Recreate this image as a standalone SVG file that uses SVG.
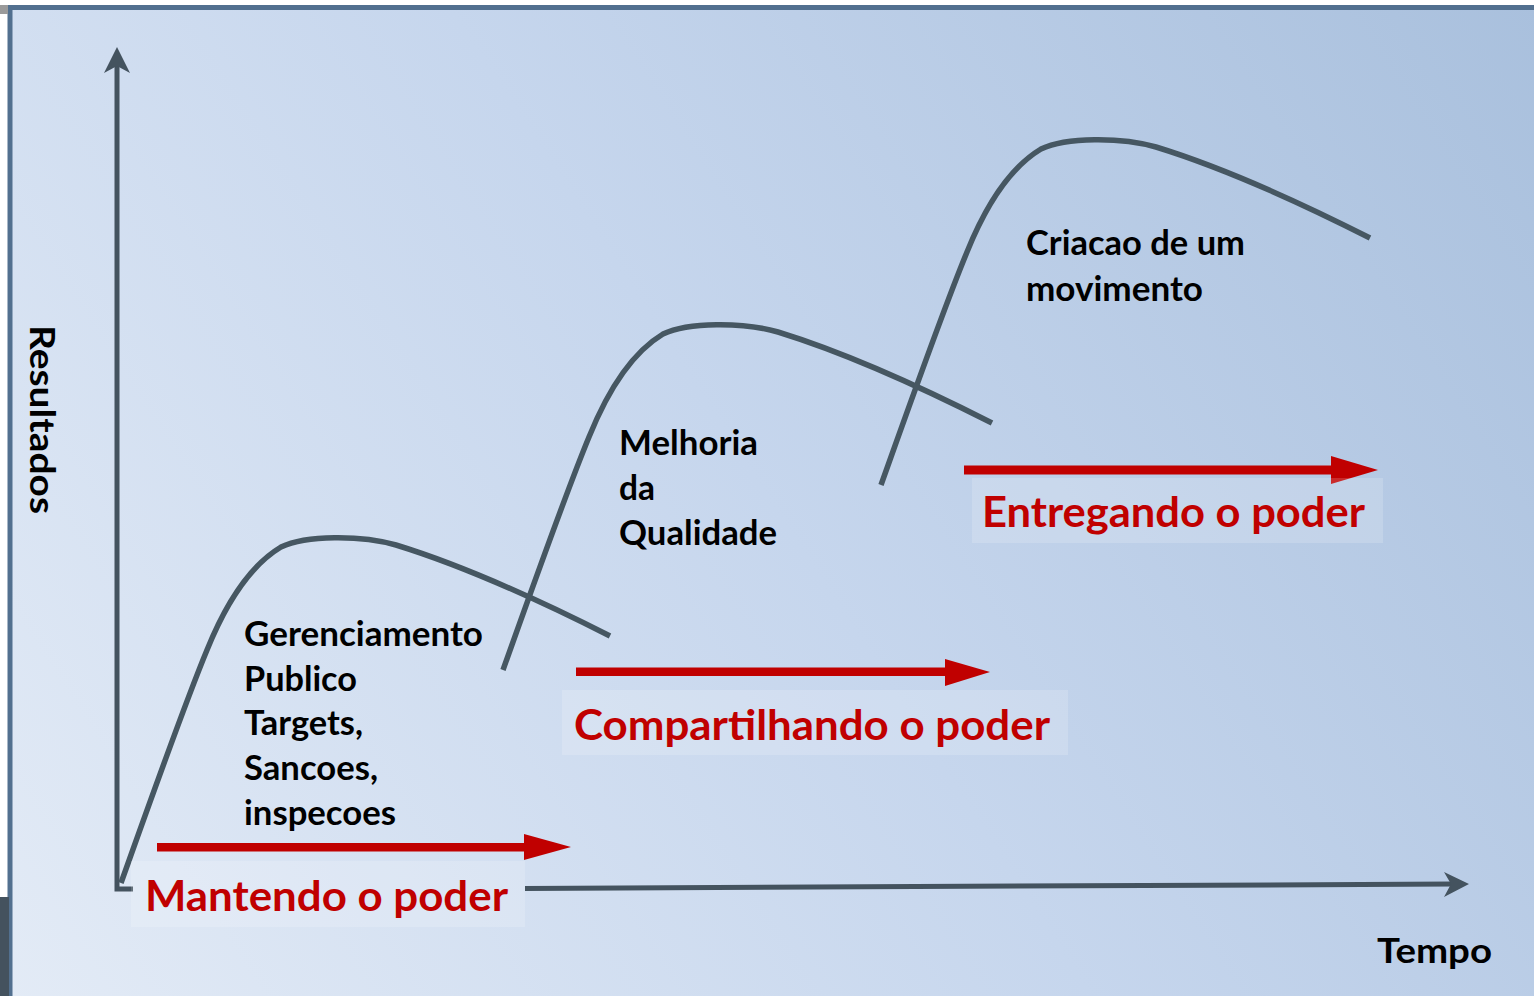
<svg xmlns="http://www.w3.org/2000/svg" width="1534" height="996" viewBox="0 0 1534 996">
  <defs>
    <linearGradient id="bg" x1="0" y1="996" x2="1534" y2="0" gradientUnits="userSpaceOnUse">
      <stop offset="0" stop-color="#e3ebf6"/>
      <stop offset="0.5" stop-color="#c6d6ed"/>
      <stop offset="1" stop-color="#a9c0dd"/>
    </linearGradient>
    <style>
      .axis { fill: none; stroke: #44535f; stroke-width: 5; }
      .axhead { fill: #44535f; }
      .curve { fill: none; stroke: #465762; stroke-width: 5.5; stroke-linecap: butt; }
      .red { fill: #c00000; }
      .lbox { fill: #ffffff; fill-opacity: 0.17; }
      .blk { font-family: Lato, "Liberation Sans", sans-serif; font-weight: 700; font-size: 34px; fill: #000000; }
      .rtxt { font-family: Lato, "Liberation Sans", sans-serif; font-weight: 700; font-size: 42px; fill: #c00000; }
    </style>
  </defs>

  <rect x="0" y="0" width="1534" height="996" fill="#ffffff"/>
  <rect x="10" y="7.5" width="1530" height="1000" fill="url(#bg)" stroke="#52708f" stroke-width="5"/>
  <rect x="0" y="5" width="8" height="9" fill="#9a9a9a"/>
  <rect x="0" y="897" width="9" height="99" fill="#44525e"/>

  <g id="connectors">
    <!-- axes -->
    <path class="axis" d="M117,62 L117,889 L133,889"/>
    <polygon class="axhead" points="117,47 130,73 117,66 104,73"/>
    <path class="axis" d="M525,888.5 L1453,884"/>
    <polygon class="axhead" points="1469,884 1444,872 1451,884 1444,897"/>

    <!-- curves -->
    <path class="curve" transform="translate(121,883)" d="M0,0 C25,-70 62,-175 86,-233 C105,-280 130,-318 160,-336 C185,-348 240,-348 275,-338 C340,-318 420,-282 489,-247"/>
    <path class="curve" transform="translate(503,670)" d="M0,0 C25,-70 62,-175 86,-233 C105,-280 130,-318 160,-336 C185,-348 240,-348 275,-338 C340,-318 420,-282 489,-247"/>
    <path class="curve" transform="translate(881,485)" d="M0,0 C25,-70 62,-175 86,-233 C105,-280 130,-318 160,-336 C185,-348 240,-348 275,-338 C340,-318 420,-282 489,-247"/>

    <!-- red arrows -->
    <rect class="red" x="157" y="843" width="369" height="8.5"/>
    <polygon class="red" points="524,834 571,847 524,860"/>
    <rect class="red" x="576" y="667.5" width="371" height="8.5"/>
    <polygon class="red" points="945,659 990,672 945,686"/>
    <rect class="red" x="964" y="465.5" width="369" height="9"/>
    <polygon class="red" points="1331,456 1378,470 1331,484"/>
  </g>

  <g id="label-mantendo">
    <rect class="lbox" x="131" y="861" width="394" height="66"/>
    <text class="rtxt" x="145" y="911" textLength="363" lengthAdjust="spacingAndGlyphs">Mantendo o poder</text>
  </g>
  <g id="label-compartilhando">
    <rect class="lbox" x="562" y="690" width="506" height="65"/>
    <text class="rtxt" x="574" y="740" textLength="476" lengthAdjust="spacingAndGlyphs">Compartilhando o poder</text>
  </g>
  <g id="label-entregando">
    <rect class="lbox" x="972" y="478" width="411" height="65"/>
    <text class="rtxt" x="982" y="527" textLength="383" lengthAdjust="spacingAndGlyphs">Entregando o poder</text>
  </g>

  <g id="stage-gerenciamento">
    <text class="blk" x="244" y="646" textLength="239" lengthAdjust="spacingAndGlyphs">Gerenciamento</text>
    <text class="blk" x="244" y="691" textLength="113" lengthAdjust="spacingAndGlyphs">Publico</text>
    <text class="blk" x="244" y="735" textLength="119" lengthAdjust="spacingAndGlyphs">Targets,</text>
    <text class="blk" x="244" y="780" textLength="134" lengthAdjust="spacingAndGlyphs">Sancoes,</text>
    <text class="blk" x="244" y="825" textLength="152" lengthAdjust="spacingAndGlyphs">inspecoes</text>
  </g>
  <g id="stage-melhoria">
    <text class="blk" x="619" y="455" textLength="139" lengthAdjust="spacingAndGlyphs">Melhoria</text>
    <text class="blk" x="619" y="500" textLength="36" lengthAdjust="spacingAndGlyphs">da</text>
    <text class="blk" x="619" y="545" textLength="158" lengthAdjust="spacingAndGlyphs">Qualidade</text>
  </g>
  <g id="stage-criacao">
    <text class="blk" x="1026" y="255" textLength="219" lengthAdjust="spacingAndGlyphs">Criacao de um</text>
    <text class="blk" x="1026" y="301" textLength="177" lengthAdjust="spacingAndGlyphs">movimento</text>
  </g>

  <g id="axis-labels">
    <text class="blk" x="1377" y="963" textLength="115" lengthAdjust="spacingAndGlyphs">Tempo</text>
    <text class="blk" transform="translate(30,325) rotate(90)" x="0" y="0" textLength="189" lengthAdjust="spacingAndGlyphs">Resultados</text>
  </g>
</svg>
